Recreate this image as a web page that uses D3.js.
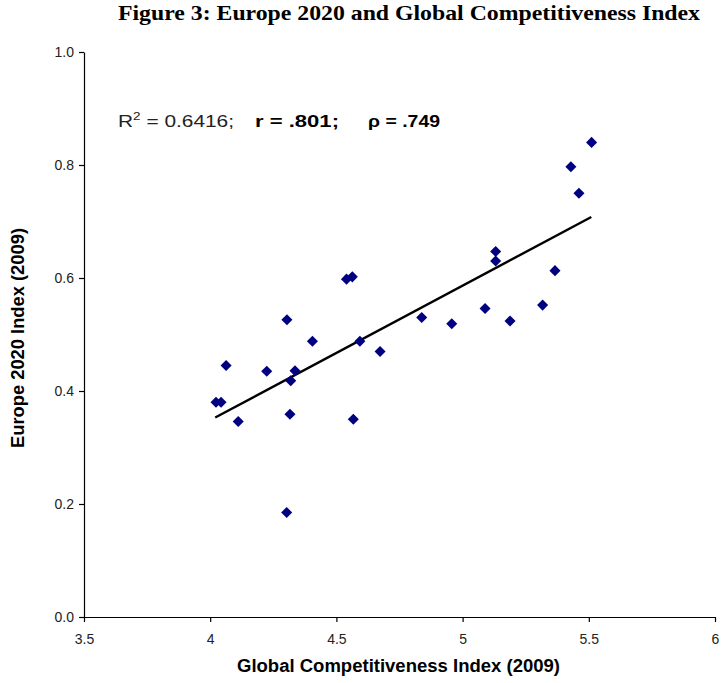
<!DOCTYPE html>
<html>
<head>
<meta charset="utf-8">
<script src="https://cdn.jsdelivr.net/npm/d3@7"></script>
<style>
  body { margin: 0; background: #fff; }
  svg { display: block; }
</style>
</head>
<body>
<svg id="chart" width="721" height="683"></svg>
<script>
// values
const gci = [5.511, 5.429, 5.461, 5.366, 5.131, 5.131, 5.317, 5.188, 5.089, 4.957,
             4.838, 4.673, 4.593, 4.567, 4.405, 4.304, 4.336, 4.319, 4.224, 4.063,
             4.023, 4.043, 4.111, 4.316, 4.303, 4.540, 4.563]
const eu2020 = [0.840, 0.797, 0.750, 0.613, 0.647, 0.630, 0.552, 0.524, 0.546, 0.519,
                0.530, 0.470, 0.488, 0.350, 0.488, 0.526, 0.436, 0.418, 0.435, 0.445,
                0.380, 0.380, 0.346, 0.359, 0.185, 0.598, 0.602]
const trendX = [4.02, 5.51]
const trendY = [0.353, 0.708]
const xTicks = [3.5, 4, 4.5, 5, 5.5, 6]
const yTicks = [0, 0.2, 0.4, 0.6, 0.8, 1.0]

const margin = { top: 52, right: 6, bottom: 66, left: 84 }
const height = 683 - margin.top - margin.bottom

const svg = d3.select("#chart")
const g = svg.append("g")
    .attr("transform", "translate(" + margin.left + "," + margin.top + ")")

const x = d3.scaleLinear().domain([3.5, 6]).range([0, 631])
const y = d3.scaleLinear().domain([0, 1]).range([height, 0])

// title
svg.append("text")
    .attr("x", 118).attr("y", 20)
    .attr("textLength", 582)
    .attr("lengthAdjust", "spacingAndGlyphs")
    .style("font-family", "'Liberation Serif', serif")
    .style("font-weight", "bold")
    .style("font-size", "21px")
    .text("Figure 3: Europe 2020 and Global Competitiveness Index")

// axes
g.append("g")
    .attr("transform", "translate(0," + height + ")")
    .call(d3.axisBottom(x).tickValues(xTicks).tickFormat(d3.format("")).tickSize(5).tickSizeOuter(0).tickPadding(12))
g.append("g")
    .call(d3.axisLeft(y).tickValues(yTicks).tickFormat(d3.format(".1f")).tickSize(5).tickSizeOuter(0).tickPadding(5))

g.selectAll(".domain, .tick line").attr("stroke", "#000").attr("stroke-width", 1.2)
g.selectAll(".tick text")
    .style("font-family", "'Liberation Sans', Arial, sans-serif")
    .style("font-size", "14px")
    .attr("fill", "#222")

// axis titles
svg.append("text")
    .attr("x", 237).attr("y", 672)
    .attr("textLength", 323)
    .attr("lengthAdjust", "spacingAndGlyphs")
    .style("font-family", "'Liberation Sans Narrow', 'Arial Narrow', sans-serif")
    .style("font-weight", "bold")
    .style("font-size", "18px")
    .text("Global Competitiveness Index (2009)")

svg.append("text")
    .attr("transform", "translate(24,448) rotate(-90)")
    .attr("textLength", 220)
    .attr("lengthAdjust", "spacingAndGlyphs")
    .style("font-family", "'Liberation Sans Narrow', 'Arial Narrow', sans-serif")
    .style("font-weight", "bold")
    .style("font-size", "18px")
    .text("Europe 2020 Index (2009)")

// trend line
g.append("path")
    .datum(d3.zip(trendX, trendY))
    .attr("fill", "none")
    .attr("stroke", "#000")
    .attr("stroke-width", 2.4)
    .attr("d", d3.line()
        .x(function (d) { return x(d[0]) })
        .y(function (d) { return y(d[1]) }))

// points
g.append("g")
    .selectAll("path")
    .data(d3.zip(gci, eu2020))
    .enter().append("path")
    .attr("transform", function (d) { return "translate(" + x(d[0]) + "," + y(d[1]) + ")" })
    .attr("d", d3.symbol().type(d3.symbolDiamond2).size(78))
    .attr("fill", "#000080")

// annotation
const note = svg.append("text")
    .attr("x", 118).attr("y", 127)
    .attr("textLength", 116)
    .attr("lengthAdjust", "spacingAndGlyphs")
    .style("font-family", "'Liberation Sans', Arial, sans-serif")
    .style("font-size", "17px")
    .attr("fill", "#222")
note.append("tspan").text("R")
note.append("tspan").attr("dy", -7).style("font-size", "11px").text("2")
note.append("tspan").attr("dy", 7).text(" = 0.6416;")

svg.append("text")
    .attr("x", 255).attr("y", 127)
    .attr("textLength", 84)
    .attr("lengthAdjust", "spacingAndGlyphs")
    .style("font-family", "'Liberation Sans', Arial, sans-serif")
    .style("font-size", "17px")
    .style("font-weight", "bold")
    .text("r = .801;")

svg.append("text")
    .attr("x", 368).attr("y", 127)
    .attr("textLength", 72)
    .attr("lengthAdjust", "spacingAndGlyphs")
    .style("font-family", "'Liberation Sans', Arial, sans-serif")
    .style("font-size", "17px")
    .style("font-weight", "bold")
    .text("ρ = .749")
</script>
</body>
</html>
